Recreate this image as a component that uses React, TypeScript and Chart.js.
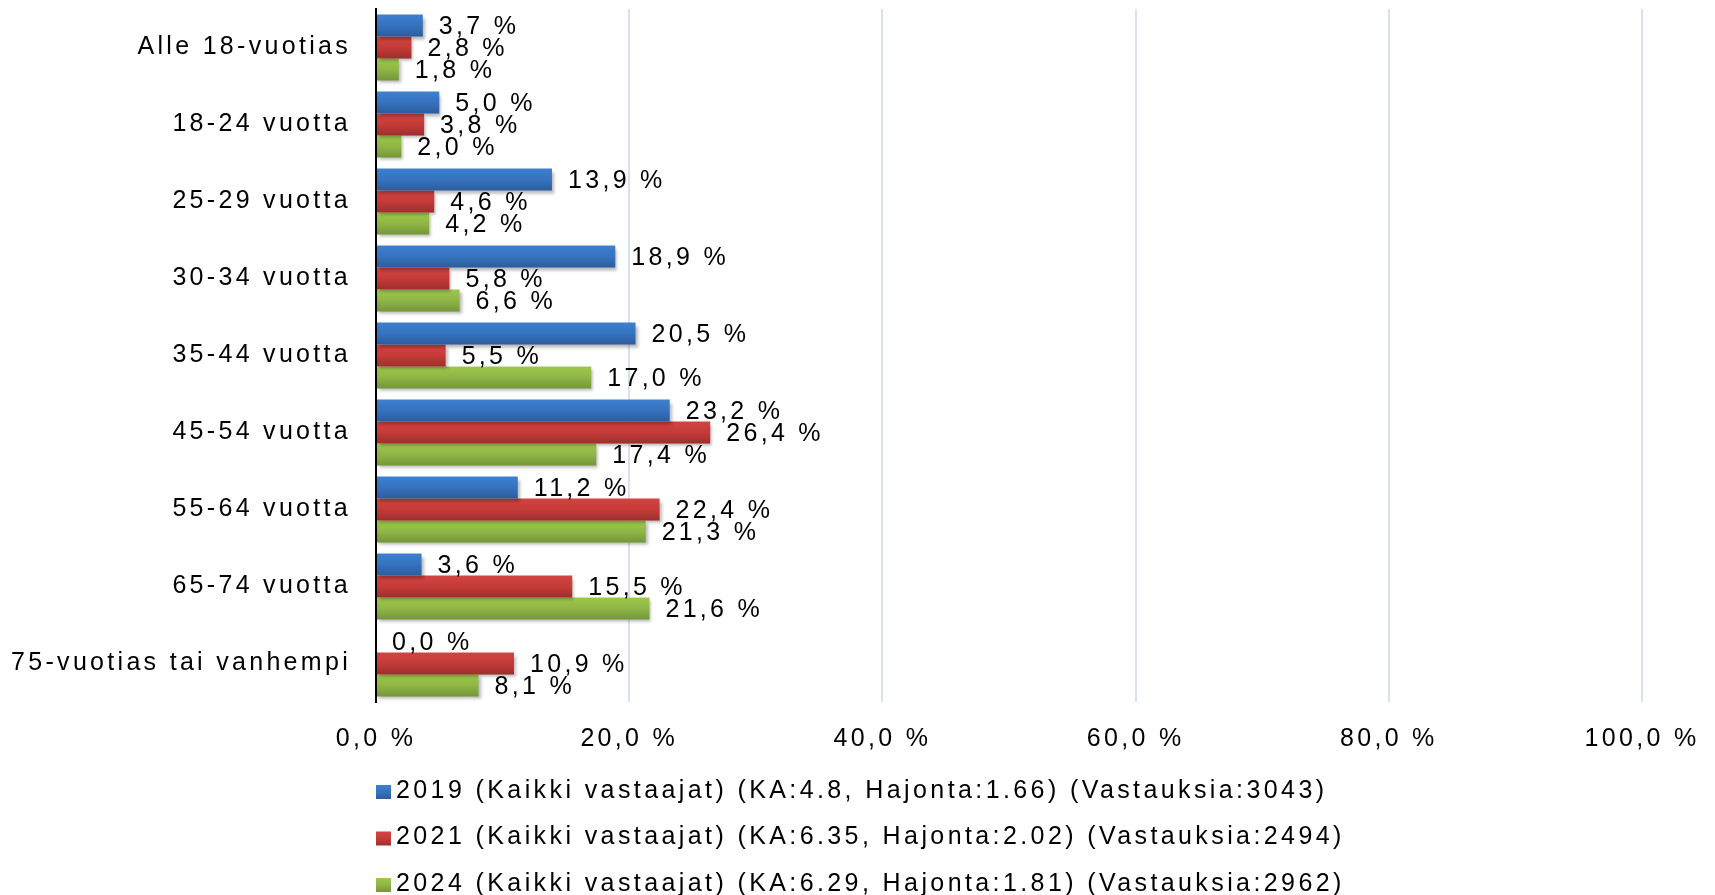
import React, { useEffect, useRef } from "react";
import { Chart, registerables } from "chart.js";

Chart.register(...registerables);

const categories = [
  "Alle 18-vuotias",
  "18-24 vuotta",
  "25-29 vuotta",
  "30-34 vuotta",
  "35-44 vuotta",
  "45-54 vuotta",
  "55-64 vuotta",
  "65-74 vuotta",
  "75-vuotias tai vanhempi",
];

const values2019 = [3.7, 5.0, 13.9, 18.9, 20.5, 23.2, 11.2, 3.6, 0.0];
const values2021 = [2.8, 3.8, 4.6, 5.8, 5.5, 26.4, 22.4, 15.5, 10.9];
const values2024 = [1.8, 2.0, 4.2, 6.6, 17.0, 17.4, 21.3, 21.6, 8.1];

const seriesLabels = [
  "2019 (Kaikki vastaajat) (KA:4.8, Hajonta:1.66) (Vastauksia:3043)",
  "2021 (Kaikki vastaajat) (KA:6.35, Hajonta:2.02) (Vastauksia:2494)",
  "2024 (Kaikki vastaajat) (KA:6.29, Hajonta:1.81) (Vastauksia:2962)",
];

const xMin = 0;
const xMax = 100;
const xStep = 20;

const FONT = "'Liberation Sans', Arial, Helvetica, sans-serif";
const FONT_SIZE = 25;
const LS = "3.3px";
const LEGEND_LS = "3.4px";

// gradient stops per series: top, middle, bottom
const seriesGradients = [
  ["#3D80CF", "#3672C0", "#2C5D9C"],
  ["#D34441", "#C43B38", "#9E2F2C"],
  ["#9DC84B", "#8FB645", "#75963A"],
];

const CAT_PCT = 0.857;

const fmt = (v: number) => v.toFixed(1).replace(".", ",") + " %";

function makeGradient(ctx: CanvasRenderingContext2D, top: number, h: number, stops: string[]) {
  const g = ctx.createLinearGradient(0, top, 0, top + h);
  g.addColorStop(0, stops[0]);
  g.addColorStop(0.5, stops[1]);
  g.addColorStop(1, stops[2]);
  return g;
}

export default function App() {
  const ref = useRef<HTMLCanvasElement | null>(null);

  useEffect(() => {
    document.body.style.margin = "0";
    const canvas = ref.current;
    if (!canvas) return;

    const barFill = (seriesIndex: number) => (context: any) => {
      const chart = context.chart;
      const area = chart.chartArea;
      const yScale = chart.scales && chart.scales.y;
      const stops = seriesGradients[seriesIndex];
      if (!area || !yScale || context.dataIndex === undefined) return stops[1];
      const catH = (area.bottom - area.top) / categories.length;
      const barH = (catH * CAT_PCT) / 3;
      const center = yScale.getPixelForValue(context.dataIndex) + (seriesIndex - 1) * barH;
      return makeGradient(chart.ctx, center - barH / 2, barH, stops);
    };

    const spacingPlugin = {
      id: "spacing",
      beforeUpdate(chart: any) {
        chart.ctx.letterSpacing = LS;
      },
      beforeDraw(chart: any) {
        chart.ctx.letterSpacing = LS;
      },
    };

    const barDecor = {
      id: "barDecor",
      beforeDatasetsDraw(chart: any) {
        const ctx = chart.ctx;
        ctx.save();
        ctx.shadowColor = "rgba(0,0,0,0.28)";
        ctx.shadowOffsetX = 2;
        ctx.shadowOffsetY = 3;
        ctx.shadowBlur = 3;
      },
      afterDatasetsDraw(chart: any) {
        const ctx = chart.ctx;
        ctx.restore();
        ctx.save();
        ctx.letterSpacing = LS;
        ctx.font = `${FONT_SIZE}px ${FONT}`;
        ctx.fillStyle = "#000";
        ctx.textAlign = "left";
        ctx.textBaseline = "middle";
        chart.data.datasets.forEach((ds: any, i: number) => {
          const meta = chart.getDatasetMeta(i);
          meta.data.forEach((el: any, j: number) => {
            ctx.fillText(fmt(ds.data[j]), el.x + 16, el.y + 2);
          });
        });
        ctx.restore();
      },
    };

    const legendPlugin = {
      id: "manualLegend",
      afterDraw(chart: any) {
        const ctx = chart.ctx;
        ctx.save();
        ctx.letterSpacing = LEGEND_LS;
        ctx.font = `${FONT_SIZE}px ${FONT}`;
        ctx.fillStyle = "#000";
        ctx.textAlign = "left";
        ctx.textBaseline = "middle";
        const x0 = chart.chartArea.left;
        const yStart = chart.chartArea.bottom + 89;
        const gap = 46.5;
        chart.data.datasets.forEach((ds: any, i: number) => {
          const yc = yStart + i * gap;
          ctx.fillStyle = makeGradient(ctx, yc - 6, 14, seriesGradients[i]);
          ctx.fillRect(x0, yc - 6, 15, 14);
          ctx.fillStyle = "#000";
          ctx.fillText(ds.label, x0 + 20, yc);
        });
        ctx.restore();
      },
    };

    const chart = new Chart(canvas, {
      type: "bar",
      data: {
        labels: categories,
        datasets: [
          { label: seriesLabels[0], data: values2019, backgroundColor: barFill(0) },
          { label: seriesLabels[1], data: values2021, backgroundColor: barFill(1) },
          { label: seriesLabels[2], data: values2024, backgroundColor: barFill(2) },
        ],
      },
      options: {
        indexAxis: "y",
        responsive: true,
        maintainAspectRatio: false,
        animation: false,
        events: [],
        layout: { padding: { top: 9, right: 73, left: 0, bottom: 133 } },
        datasets: {
          bar: { categoryPercentage: CAT_PCT, barPercentage: 1, borderWidth: 0 },
        },
        plugins: {
          legend: { display: false },
          tooltip: { enabled: false },
          title: { display: false },
        },
        scales: {
          x: {
            type: "linear",
            min: xMin,
            max: xMax,
            ticks: {
              stepSize: xStep,
              padding: 22,
              color: "#000",
              font: { family: FONT, size: FONT_SIZE },
              callback: (v: any) => fmt(Number(v)),
              maxRotation: 0,
            },
            grid: { color: "#D8E2EF", lineWidth: 2, drawTicks: false },
            border: { display: false },
            afterFit: (scale: any) => {
              scale.height = 60;
              scale.paddingLeft = 0;
              scale.paddingRight = 0;
            },
          },
          y: {
            z: 1,
            ticks: {
              padding: 25,
              color: "#000",
              font: { family: FONT, size: FONT_SIZE },
            },
            grid: { display: false, drawTicks: false },
            border: { display: true, color: "#000", width: 2 },
            afterFit: (scale: any) => {
              scale.width = 376;
              scale.paddingTop = 0;
              scale.paddingBottom = 0;
            },
          },
        },
      },
      plugins: [spacingPlugin, barDecor, legendPlugin],
    } as any);

    return () => {
      chart.destroy();
    };
  }, []);

  return (
    <div style={{ position: "fixed", left: 0, top: 0, width: 1715, height: 895, background: "#fff" }}>
      <canvas ref={ref} />
    </div>
  );
}
